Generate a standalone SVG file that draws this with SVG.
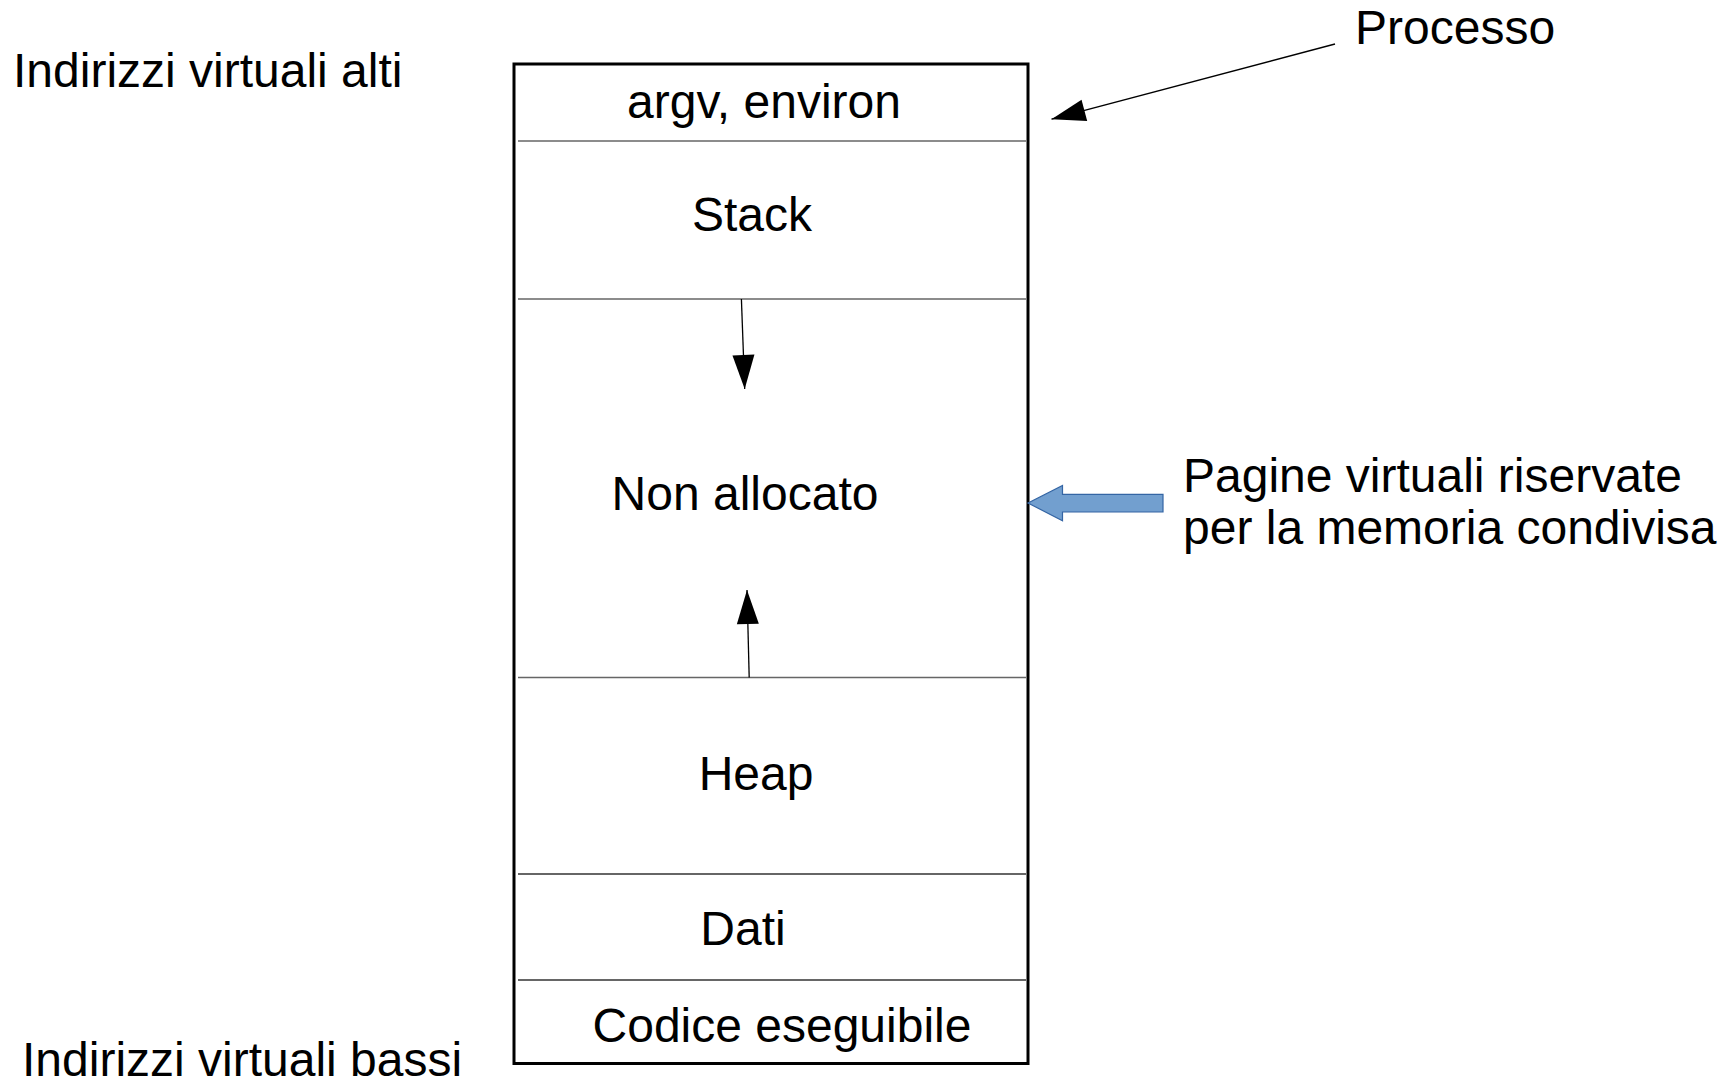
<svg xmlns="http://www.w3.org/2000/svg" width="1730" height="1082" viewBox="0 0 1730 1082">
<style>
text{font-family:"Liberation Sans",Arial,sans-serif;font-size:48px;fill:#000}
.c{text-anchor:middle}
.div{stroke:#666;stroke-width:1.6}
.div2{stroke:#333;stroke-width:1.6}
.conn{stroke:#000;stroke-width:1.3;fill:none;marker-end:url(#ah)}
</style>
<defs>
<marker id="ah" markerUnits="userSpaceOnUse" markerWidth="36" markerHeight="24" refX="34" refY="11" orient="auto" overflow="visible">
<path d="M0,0 L34,11 L0,22 z" fill="#000"/>
</marker>
</defs>
<rect width="1730" height="1082" fill="#fff"/>
<g id="labels">
<text x="13" y="87">Indirizzi virtuali alti</text>
<text x="22" y="1076">Indirizzi virtuali bassi</text>
<text x="1355" y="44">Processo</text>
<text x="1183" y="492">Pagine virtuali riservate</text>
<text x="1183" y="544">per la memoria condivisa</text>
</g>
<g id="processo-box">
<rect x="514" y="64" width="514" height="999.5" fill="#fff" stroke="#000" stroke-width="3"/>
<line class="div" x1="518" y1="141" x2="1026" y2="141"/>
<line class="div" x1="518" y1="299" x2="1026" y2="299"/>
<line class="div" x1="518" y1="677.5" x2="1026" y2="677.5"/>
<line class="div2" x1="518" y1="874" x2="1026" y2="874"/>
<line class="div2" x1="518" y1="980" x2="1026" y2="980"/>
</g>
<g id="seg-argv"><text class="c" x="764" y="118">argv, environ</text></g>
<g id="seg-stack"><text class="c" x="752" y="231">Stack</text></g>
<g id="seg-nonalloc"><text class="c" x="745" y="510">Non allocato</text></g>
<g id="seg-heap"><text class="c" x="756" y="790">Heap</text></g>
<g id="seg-dati"><text class="c" x="743" y="945">Dati</text></g>
<g id="seg-codice"><text class="c" x="782" y="1042">Codice eseguibile</text></g>
<g id="connectors">
<line class="conn" x1="741.4" y1="299" x2="744.7" y2="389"/>
<line class="conn" x1="749.2" y1="677.5" x2="747" y2="590"/>
<line class="conn" x1="1335" y1="44" x2="1051.5" y2="119.2"/>
<path d="M1028,503 L1062.5,485.5 L1062.5,494.3 L1163,494.3 L1163,512 L1062.5,512 L1062.5,520.8 z" fill="#729fcf" stroke="#3465a4" stroke-width="1.2"/>
</g>
</svg>
